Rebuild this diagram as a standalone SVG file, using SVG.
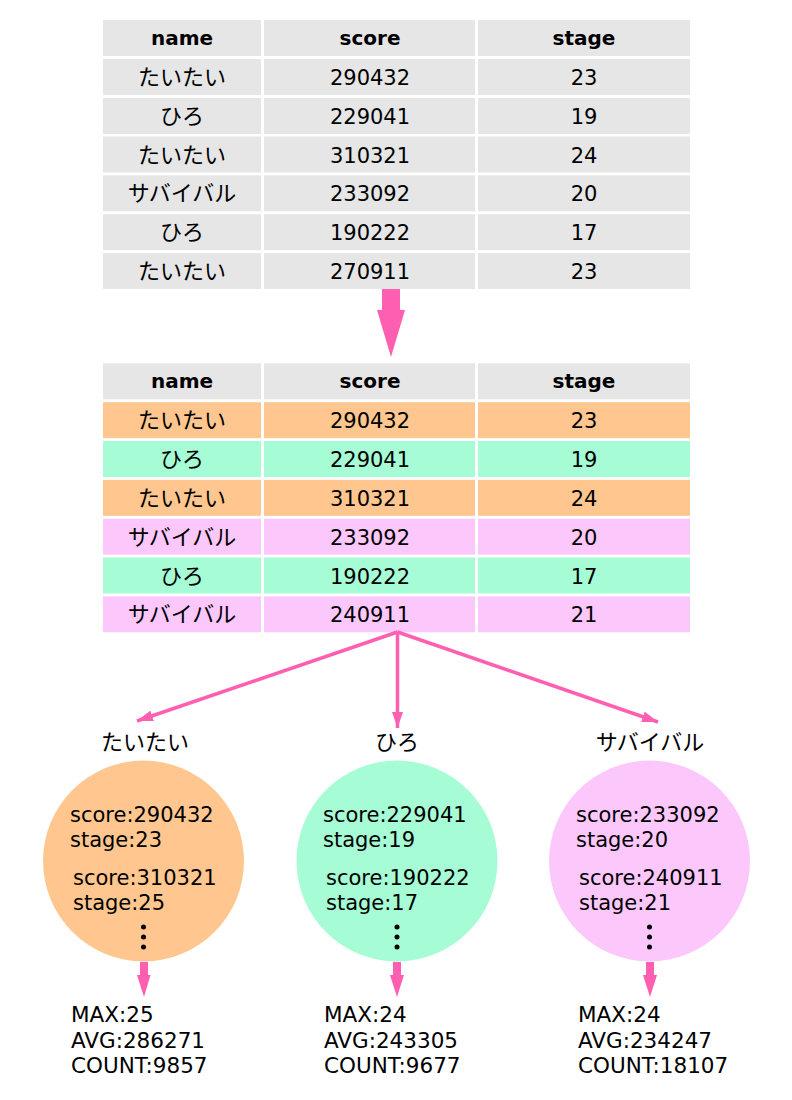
<svg xmlns="http://www.w3.org/2000/svg" width="792" height="1100" viewBox="0 0 792 1100">
<defs>
<style>
text{font-family:"DejaVu Sans","Noto Sans CJK JP",sans-serif;fill:#000;}
.t{font-size:21px;text-anchor:middle;}
.k{font-size:22px;text-anchor:middle;font-family:"Noto Sans CJK JP",sans-serif;}
.h{font-size:20px;text-anchor:middle;font-weight:bold;}
.c{font-size:21px;}
.s{font-size:21.5px;}
.g{fill:#e6e6e6;}
.o{fill:#ffc78f;}
.gr{fill:#a6fcd4;}
.p{fill:#fcc8fc;}
.ln{stroke:#ff5fb0;stroke-width:3.5;fill:none;}
.pk{fill:#ff5fb0;}
</style>
<marker id="ah" viewBox="0 0 16 11" refX="16" refY="5.5" markerUnits="userSpaceOnUse" markerWidth="16" markerHeight="11" orient="auto">
<path d="M0,0 L16,5.5 L0,11 Z" fill="#ff5fb0"/>
</marker>
</defs>
<rect width="792" height="1100" fill="#fff"/>

<g id="table1">
<rect class="g" x="103" y="20" width="158" height="36"/><rect class="g" x="264" y="20" width="211" height="36"/><rect class="g" x="478" y="20" width="212" height="36"/>
<text class="h" x="182" y="45">name</text><text class="h" x="370" y="45">score</text><text class="h" x="584" y="45">stage</text>
<rect class="g" x="103" y="59" width="158" height="36"/><rect class="g" x="264" y="59" width="211" height="36"/><rect class="g" x="478" y="59" width="212" height="36"/>
<text class="k" x="182" y="85">たいたい</text><text class="t" x="370" y="85">290432</text><text class="t" x="584" y="85">23</text>
<rect class="g" x="103" y="98" width="158" height="36"/><rect class="g" x="264" y="98" width="211" height="36"/><rect class="g" x="478" y="98" width="212" height="36"/>
<text class="k" x="182" y="124">ひろ</text><text class="t" x="370" y="124">229041</text><text class="t" x="584" y="124">19</text>
<rect class="g" x="103" y="136.5" width="158" height="36"/><rect class="g" x="264" y="136.5" width="211" height="36"/><rect class="g" x="478" y="136.5" width="212" height="36"/>
<text class="k" x="182" y="162.5">たいたい</text><text class="t" x="370" y="162.5">310321</text><text class="t" x="584" y="162.5">24</text>
<rect class="g" x="103" y="175.3" width="158" height="36"/><rect class="g" x="264" y="175.3" width="211" height="36"/><rect class="g" x="478" y="175.3" width="212" height="36"/>
<text class="k" x="182" y="201.3">サバイバル</text><text class="t" x="370" y="201.3">233092</text><text class="t" x="584" y="201.3">20</text>
<rect class="g" x="103" y="214.2" width="158" height="36"/><rect class="g" x="264" y="214.2" width="211" height="36"/><rect class="g" x="478" y="214.2" width="212" height="36"/>
<text class="k" x="182" y="240.2">ひろ</text><text class="t" x="370" y="240.2">190222</text><text class="t" x="584" y="240.2">17</text>
<rect class="g" x="103" y="253" width="158" height="36"/><rect class="g" x="264" y="253" width="211" height="36"/><rect class="g" x="478" y="253" width="212" height="36"/>
<text class="k" x="182" y="279">たいたい</text><text class="t" x="370" y="279">270911</text><text class="t" x="584" y="279">23</text>
</g>

<g id="table2">
<rect class="g" x="103" y="363.3" width="158" height="36"/><rect class="g" x="264" y="363.3" width="211" height="36"/><rect class="g" x="478" y="363.3" width="212" height="36"/>
<text class="h" x="182" y="388.3">name</text><text class="h" x="370" y="388.3">score</text><text class="h" x="584" y="388.3">stage</text>
<rect class="o" x="103" y="402.2" width="158" height="36"/><rect class="o" x="264" y="402.2" width="211" height="36"/><rect class="o" x="478" y="402.2" width="212" height="36"/>
<text class="k" x="182" y="428.2">たいたい</text><text class="t" x="370" y="428.2">290432</text><text class="t" x="584" y="428.2">23</text>
<rect class="gr" x="103" y="441" width="158" height="36"/><rect class="gr" x="264" y="441" width="211" height="36"/><rect class="gr" x="478" y="441" width="212" height="36"/>
<text class="k" x="182" y="467">ひろ</text><text class="t" x="370" y="467">229041</text><text class="t" x="584" y="467">19</text>
<rect class="o" x="103" y="479.8" width="158" height="36"/><rect class="o" x="264" y="479.8" width="211" height="36"/><rect class="o" x="478" y="479.8" width="212" height="36"/>
<text class="k" x="182" y="505.8">たいたい</text><text class="t" x="370" y="505.8">310321</text><text class="t" x="584" y="505.8">24</text>
<rect class="p" x="103" y="518.7" width="158" height="36"/><rect class="p" x="264" y="518.7" width="211" height="36"/><rect class="p" x="478" y="518.7" width="212" height="36"/>
<text class="k" x="182" y="544.7">サバイバル</text><text class="t" x="370" y="544.7">233092</text><text class="t" x="584" y="544.7">20</text>
<rect class="gr" x="103" y="557.5" width="158" height="36"/><rect class="gr" x="264" y="557.5" width="211" height="36"/><rect class="gr" x="478" y="557.5" width="212" height="36"/>
<text class="k" x="182" y="583.5">ひろ</text><text class="t" x="370" y="583.5">190222</text><text class="t" x="584" y="583.5">17</text>
<rect class="p" x="103" y="596.3" width="158" height="36"/><rect class="p" x="264" y="596.3" width="211" height="36"/><rect class="p" x="478" y="596.3" width="212" height="36"/>
<text class="k" x="182" y="622.3">サバイバル</text><text class="t" x="370" y="622.3">240911</text><text class="t" x="584" y="622.3">21</text>
</g>

<g id="connectors">
<path class="pk" d="M382,289 H400 V310 H405 L391,357 L377,310 H382 Z"/>
<line class="ln" x1="397.5" y1="632" x2="137" y2="721" marker-end="url(#ah)"/>
<line class="ln" x1="397.5" y1="632" x2="397.5" y2="728" marker-end="url(#ah)"/>
<line class="ln" x1="397.5" y1="632" x2="658" y2="722" marker-end="url(#ah)"/>
<path class="pk" d="M140,962 H148 V975 H150.5 L144,997 L137,975 H140 Z"/>
<path class="pk" d="M393,962 H401 V975 H404 L397,997 L390,975 H393 Z"/>
<path class="pk" d="M646,962 H654 V975 H657 L650,997 L643,975 H646 Z"/>
</g>

<g id="node-taitai">
<text class="k" x="145" y="750">たいたい</text>
<circle class="o" cx="143.5" cy="861" r="100.5"/>
<text class="c" x="70" y="822">score:290432</text>
<text class="c" x="70" y="847">stage:23</text>
<text class="c" x="73" y="885">score:310321</text>
<text class="c" x="73" y="910">stage:25</text>
<circle cx="143.5" cy="927" r="2.5"/><circle cx="143.5" cy="937" r="2.5"/><circle cx="143.5" cy="947" r="2.5"/>
<text class="s" x="71" y="1022">MAX:25</text>
<text class="s" x="71" y="1047.5">AVG:286271</text>
<text class="s" x="71" y="1073">COUNT:9857</text>
</g>

<g id="node-hiro">
<text class="k" x="397" y="750">ひろ</text>
<circle class="gr" cx="397" cy="861" r="100.5"/>
<text class="c" x="323" y="822">score:229041</text>
<text class="c" x="323" y="847">stage:19</text>
<text class="c" x="326" y="885">score:190222</text>
<text class="c" x="326" y="910">stage:17</text>
<circle cx="397" cy="927" r="2.5"/><circle cx="397" cy="937" r="2.5"/><circle cx="397" cy="947" r="2.5"/>
<text class="s" x="324" y="1022">MAX:24</text>
<text class="s" x="324" y="1047.5">AVG:243305</text>
<text class="s" x="324" y="1073">COUNT:9677</text>
</g>

<g id="node-survival">
<text class="k" x="650" y="750">サバイバル</text>
<circle class="p" cx="649.5" cy="861" r="100.5"/>
<text class="c" x="576" y="822">score:233092</text>
<text class="c" x="576" y="847">stage:20</text>
<text class="c" x="579" y="885">score:240911</text>
<text class="c" x="579" y="910">stage:21</text>
<circle cx="649.5" cy="927" r="2.5"/><circle cx="649.5" cy="937" r="2.5"/><circle cx="649.5" cy="947" r="2.5"/>
<text class="s" x="578" y="1022">MAX:24</text>
<text class="s" x="578" y="1047.5">AVG:234247</text>
<text class="s" x="578" y="1073">COUNT:18107</text>
</g>
</svg>
